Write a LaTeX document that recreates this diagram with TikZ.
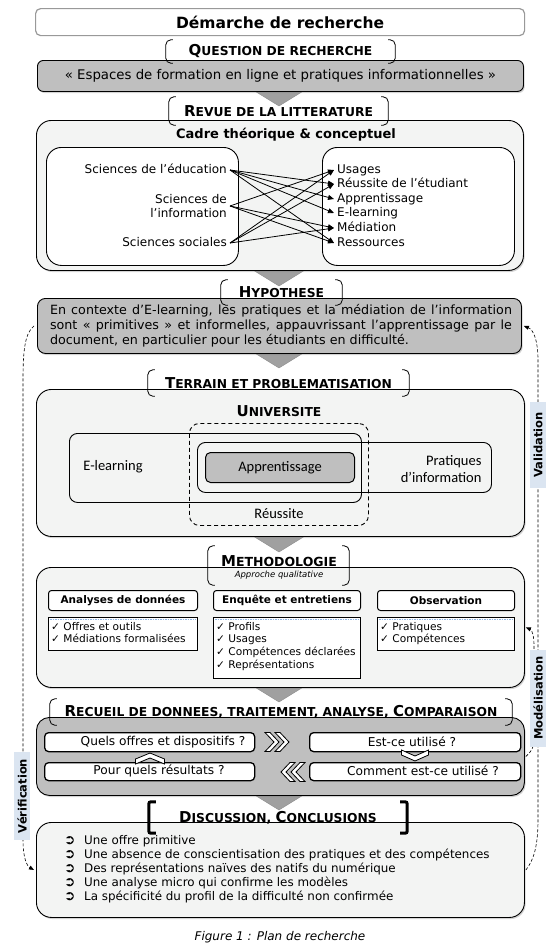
\documentclass[tikz,border=0pt]{standalone}
\usepackage{graphicx}
\usepackage{fontspec}
\setmainfont{DejaVu Sans}
\newfontfamily\calibfont{Carlito}
\usetikzlibrary{calc,positioning,shadows,arrows.meta}

\definecolor{boxgray}{RGB}{191,191,191}
\definecolor{panelgray}{RGB}{243,244,243}
\definecolor{tipgray}{RGB}{160,160,160}
\definecolor{tagblue}{RGB}{219,229,241}
\definecolor{dotblue}{RGB}{141,180,226}

\newcommand{\fsz}[1]{\fontsize{#1}{#1}\selectfont}
\newcommand{\bigsmall}[2]{{\fsz{15}#1}{\fsz{12.3}#2}}
\newcommand{\bul}{\makebox[20pt][l]{\bfseries\fsz{13.5}➲}}
\def\downtip(#1,#2){\filldraw[fill=tipgray,draw=black!45,line width=0.4pt] (#1-26,#2) -- (#1+26,#2) -- (#1,#2+16) -- cycle;}
\def\taghooks[#1](#2){%
  \draw[rounded corners=5pt,line width=0.8pt,#1] ([xshift=7pt]#2.north west) -- (#2.north west) -- (#2.south west) -- ([xshift=7pt]#2.south west);
  \draw[rounded corners=5pt,line width=0.8pt,#1] ([xshift=-7pt]#2.north east) -- (#2.north east) -- (#2.south east) -- ([xshift=-7pt]#2.south east);}

\tikzset{
  chevright/.pic={\path[chevron] (0,0) -- (-9,-9.5) -- (-14,-9.5) -- (-5,0) -- (-14,9.5) -- (-9,9.5) -- cycle;},
  chevleft/.pic={\path[chevron] (0,0) -- (9,-9.5) -- (14,-9.5) -- (5,0) -- (14,9.5) -- (9,9.5) -- cycle;},
  chevup/.pic={\path[chevron] (0,0) -- (14.5,6) -- (14.5,11) -- (0,5) -- (-14.5,11) -- (-14.5,6) -- cycle;},
  chevdown/.pic={\path[chevron] (0,0) -- (13.5,-6) -- (13.5,-11) -- (0,-5) -- (-13.5,-11) -- (-13.5,-6) -- cycle;},
}

\begin{document}
\begin{tikzpicture}[x=1pt,y=-1pt,
  panel/.style={draw,line width=0.9pt,fill=panelgray,rounded corners=15pt,anchor=north west,inner sep=0pt,drop shadow={shadow xshift=1.2pt,shadow yshift=-1.6pt,opacity=0.35}},
  graybox/.style={panel,fill=boxgray},
  tagbox/.style={inner sep=0pt,font=\bfseries},
  innerbox/.style={draw,line width=0.9pt,fill=white,rounded corners=15pt,anchor=north west,inner sep=0pt},
  ring/.style={draw,line width=0.9pt,rounded corners=8pt,anchor=north west,inner sep=0pt},
  item/.style={font=\fsz{12},inner sep=3pt,text height=8.5pt,text depth=2.5pt},
  conn/.style={-{Triangle[length=6pt,width=5pt]},line width=0.8pt},
  sideline/.style={dash pattern=on 3pt off 2pt,line width=0.6pt,-{Triangle[length=5pt,width=4pt]}},
  sidetag/.style={fill=tagblue,inner sep=0pt,minimum width=16pt},
  headbox/.style={draw,line width=1pt,fill=white,rounded corners=3pt,anchor=north west,inner sep=0pt,minimum height=20pt,font=\bfseries\fsz{10.5}},
  listbox/.style={draw,line width=0.9pt,fill=white,anchor=north west,inner sep=0pt},
  checks/.style={anchor=north west,align=left,inner sep=0pt,font=\fontsize{10.6}{12.6}\selectfont},
  qbox/.style={draw,line width=1.3pt,fill=white,rounded corners=4pt,anchor=north west,inner sep=0pt,minimum width=210pt,minimum height=19pt},
  qtext/.style={font=\fsz{12.2}},
  chevron/.style={draw,fill=white,line width=0.8pt},
  calib/.style={font=\calibfont\fsz{14.5}}
]
		%%%%% START %%%%%
		\useasboundingbox (0,0) rectangle (558,948);

		% tips between the blocks
		\downtip(279,90)
		\downtip(279,270)
		\downtip(279,352)
		\downtip(279,536)
		\downtip(279,686)
		\downtip(279,794)

		% title and question
		\node[draw=black!40,line width=1.2pt,fill=white,rounded corners=5pt,anchor=north west,inner sep=0pt,minimum width=489,minimum height=27,font=\bfseries\fsz{15.5}] (title) at (35,8) {Démarche de recherche};
		\node[graybox,rounded corners=6pt,minimum width=486,minimum height=31,font=\fsz{13.3}] (question) at (37,60) {« Espaces de formation en ligne et pratiques informationnelles »};
		\node[tagbox,minimum width=229,minimum height=23] (qtag) at (280.5,51.5) {\bigsmall{Q}{UESTION DE RECHERCHE}};

		% literature review
		\node[panel,minimum width=487,minimum height=150] (cadre) at (36,120) {};
		\node[tagbox,minimum width=219,minimum height=28] (revtag) at (278.5,111) {\bigsmall{R}{EVUE DE LA LITTERATURE}};
		\node[font=\bfseries\fsz{13}] (cadretitle) at (286,135) {Cadre théorique \& conceptuel};
		\node[innerbox,minimum width=192,minimum height=118] (fields) at (46,147) {};
		\node[innerbox,minimum width=192,minimum height=118] (themes) at (322,147) {};

		\node[item,anchor=east] (edu) at (230,170) {Sciences de l’éducation};
		\node[anchor=east,align=right,inner sep=3pt,font=\fontsize{12}{14.5}\selectfont] (info) at (230,206) {Sciences de\\l’information};
		\node[item,anchor=east] (soc) at (230,243) {Sciences sociales};
		\node[item,anchor=west] (usg) at (334,170) {Usages};
		\node[item,anchor=west] (reu) at (334,184) {Réussite de l’étudiant};
		\node[item,anchor=west] (app) at (334,199) {Apprentissage};
		\node[item,anchor=west] (elr) at (334,213) {E-learning};
		\node[item,anchor=west] (med) at (334,228) {Médiation};
		\node[item,anchor=west] (res) at (334,243) {Ressources};
		\foreach \a/\b in {edu/reu,edu/app,edu/elr,edu/res,info/usg,info/med,info/res,soc/usg,soc/reu,soc/med}
			\draw[conn] (\a.east) -- (\b.west);

		% hypothesis
		\node[graybox,rounded corners=8pt,minimum width=484,minimum height=55] (hyp) at (37,298) {};
		\node[align=left,inner sep=0pt,font=\fontsize{12.7}{15}\selectfont] (hyptxt) at (281,326) {\makebox[462pt][s]{En contexte d’E-learning, les pratiques et la médiation de l’information}\\\makebox[462pt][s]{sont « primitives » et informelles, appauvrissant l’apprentissage par le}\\document, en particulier pour les étudiants en difficulté.};
		\node[tagbox,minimum width=121,minimum height=25] (hyptag) at (281.5,292.5) {\bigsmall{H}{YPOTHESE}};

		% field
		\node[panel,minimum width=488,minimum height=147] (univ) at (36,389) {};
		\node[tagbox,minimum width=261,minimum height=26] (terraintag) at (278.5,383) {\bigsmall{T}{ERRAIN ET PROBLEMATISATION}};
		\node[font=\bfseries] (univtitle) at (279,411) {\bigsmall{U}{NIVERSITE}};
		\node[ring,minimum width=292,minimum height=69] (elearn) at (69,433) {};
		\node[ring,minimum width=294,minimum height=50] (pratiq) at (197,442) {};
		\node[ring,dash pattern=on 4pt off 3pt,rounded corners=10pt,minimum width=179,minimum height=102] (reussite) at (189,423) {};
		\node[ring,fill=boxgray,line width=1pt,rounded corners=5pt,minimum width=149,minimum height=30,calib] (apprent) at (205,452) {Apprentissage};
		\node[calib] (elearntxt) at (113,467) {E-learning};
		\node[anchor=east,align=right,font=\calibfont\fontsize{14.5}{16.5}\selectfont] (pratiqtxt) at (485,469) {Pratiques\\d’information};
		\node[calib] (reussitetxt) at (279,514) {Réussite};

		% methodology
		\node[panel,minimum width=488,minimum height=120] (method) at (36,567) {};
		\node[minimum width=141,minimum height=39,inner sep=0pt] (methtag) at (278.5,565.5) {};
		\node[font=\bfseries] (methtitle) at (279,561) {{\fsz{15}M}{\fsz{12.5}ETHODOLOGIE}};
		\node[font=\itshape\fsz{8.5}] (methsub) at (279,575) {Approche qualitative};
		\node[headbox,minimum width=149] (hdA) at (48,590) {Analyses de données};
		\node[headbox,minimum width=147] (hdE) at (213,590) {Enquête et entretiens};
		\node[headbox,minimum width=137] (hdO) at (377,590) {Observation};
		\node[listbox,minimum width=149,minimum height=33] (lsA) at (48,617) {};
		\node[listbox,minimum width=147,minimum height=61] (lsE) at (213,617) {};
		\node[listbox,minimum width=137,minimum height=33] (lsO) at (377,617) {};
		\foreach \b in {lsA,lsE,lsO}
			\draw[dotblue,line width=1.2pt,dash pattern=on 1.5pt off 1pt] ([xshift=2pt,yshift=-2.5pt]\b.north west) -- ([xshift=-2pt,yshift=-2.5pt]\b.north east);
		\node[checks] (ckA) at (51,622) {✓ Offres et outils\\✓ Médiations formalisées};
		\node[checks] (ckE) at (216,622) {✓ Profils\\✓ Usages\\✓ Compétences déclarées\\✓ Représentations};
		\node[checks] (ckO) at (380,622) {✓ Pratiques\\✓ Compétences};

		% data collection
		\node[graybox,rounded corners=13pt,minimum width=488,minimum height=78] (recueil) at (36,717) {};
		\node[tagbox,minimum width=462,minimum height=26] (recueiltag) at (281,712) {\bigsmall{R}{ECUEIL DE DONNEES, TRAITEMENT, ANALYSE, }\bigsmall{C}{OMPARAISON}};
		\node[qbox] (qoffre) at (44,732) {};
		\node[qbox,minimum width=211] (qusage) at (309,732) {};
		\node[qbox,minimum height=18] (qresult) at (44,762) {};
		\node[qbox,minimum width=211,minimum height=18] (qcomment) at (309,762) {};
		\node[qtext] (qoffretxt) at (163,742) {Quels offres et dispositifs ?};
		\node[qtext] (qusagetxt) at (412,742) {Est-ce utilisé ?};
		\node[qtext] (qresulttxt) at (159,771) {Pour quels résultats ?};
		\node[qtext] (qcommenttxt) at (423,771) {Comment est-ce utilisé ?};
		\pic at (279,742) {chevright};
		\pic at (289,742) {chevright};
		\pic at (281,772) {chevleft};
		\pic at (291,772) {chevleft};
		\pic at (150,753) {chevup};
		\pic at (415,761) {chevdown};

		% discussion
		\node[panel,minimum width=488,minimum height=95] (disc) at (36,822) {};
		\node[tagbox,minimum width=258,minimum height=31] (disctag) at (278,817.5) {\bigsmall{D}{ISCUSSION, }\bigsmall{C}{ONCLUSIONS}};
		\node[anchor=north west,align=left,inner sep=0pt,font=\fontsize{11.9}{14}\selectfont] (findings) at (64,835) {\bul Une offre primitive\\\bul Une absence de conscientisation des pratiques et des compétences\\\bul Des représentations naïves des natifs du numérique\\\bul Une analyse micro qui confirme les modèles\\\bul La spécificité du profil de la difficulté non confirmée};
		\node[font=\itshape\fsz{12}] (caption) at (280,937) {Figure 1 : Plan de recherche};

		% brackets round the step names
		\taghooks[](qtag)
		\taghooks[](revtag)
		\taghooks[](hyptag)
		\taghooks[](terraintag)
		\taghooks[](methtag)
		\taghooks[](recueiltag)
		\taghooks[line width=3pt,rounded corners=2pt](disctag)

		% loops on the sides
		\draw[sideline] ([xshift=-3pt]hyp.west) .. controls (25,333) and (23,350) .. (23,380) -- (23,840) .. controls (23,858) and (27,866) .. ([xshift=-2pt]disc.west);
		\draw[sideline] ([xshift=1pt]disc.east) .. controls (534,860) and (538,845) .. (538,820) -- (538,360) .. controls (538,342) and (534,330) .. ([xshift=2pt]hyp.east);
		\draw[sideline] ([xshift=1pt]recueil.east) .. controls (531,752) and (534,748) .. (534,738) -- (534,645) .. controls (534,636) and (532,630) .. ([xshift=1pt]method.east);
		\node[sidetag,minimum height=86] (valid) at (538,445) {\rotatebox{90}{\bfseries\fsz{11.5}Validation}};
		\node[sidetag,minimum height=97] (model) at (538,698) {\rotatebox{90}{\bfseries\fsz{11.5}Modélisation}};
		\node[sidetag,minimum height=88] (verif) at (22,796) {\rotatebox{90}{\bfseries\fsz{11.5}Vérification}};
		%%%%% END %%%%%
\end{tikzpicture}
\end{document}
